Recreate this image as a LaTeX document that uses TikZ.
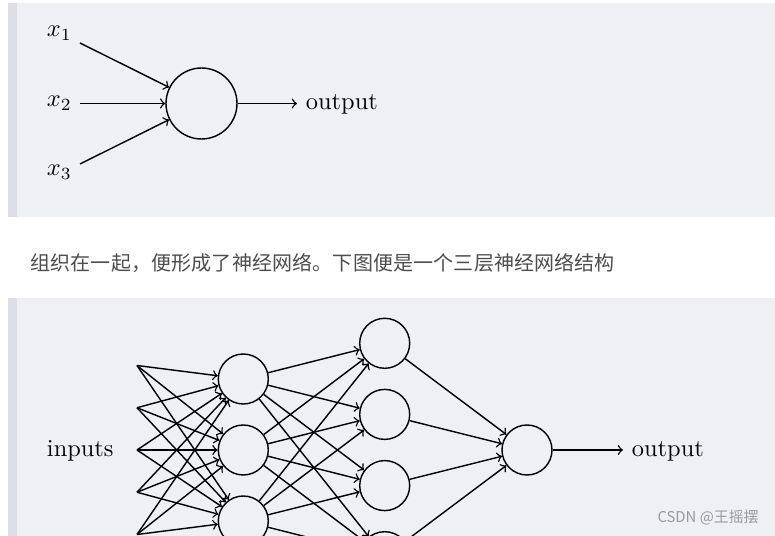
\documentclass[tikz,border=0pt]{standalone}
\usepackage{fontspec}
\newfontfamily\cjk[LetterSpace=0.8]{Noto Sans CJK SC}
\newfontfamily\cjkw{Noto Sans CJK SC}
\definecolor{panel}{HTML}{EEF0F4}
\definecolor{strip}{HTML}{DDDFE4}
\definecolor{bodytext}{HTML}{4D4D4D}
\definecolor{wmark}{HTML}{9A9A9A}
\begin{document}
\begin{tikzpicture}[x=0.41pt,y=-0.41pt,
  neuron/.style={draw,circle,inner sep=0pt,minimum size=20.5pt,line width=0.58pt},
  bigneuron/.style={neuron,minimum size=29.1pt},
  edge/.style={->,line width=0.58pt},
  lbl/.style={inner sep=0pt,anchor=base west},
]
\useasboundingbox (0,0) rectangle (775,536);
\clip (0,0) rectangle (775,536);
\fill[white] (0,0) rectangle (775,536);
% panels
\fill[panel] (8,3) rectangle (775,217.3);
\fill[strip] (8,3) rectangle (17.3,217.3);
\fill[panel] (8,297.7) rectangle (775,536);
\fill[strip] (8,297.7) rectangle (17.3,536);

% ---- top: single perceptron
\node[bigneuron] (p) at (201.5,103.5) {};
\node[lbl] (x1) at (46.5,37) {$x_1$};
\node[lbl] (x2) at (46.5,106.5) {$x_2$};
\node[lbl] (x3) at (46.5,176) {$x_3$};
\coordinate (s1) at (80,43);
\coordinate (s2) at (80,103.5);
\coordinate (s3) at (80,164);
\foreach \k in {1,2,3} \draw[edge] (s\k) -- (p);
\coordinate (pe) at (297,103.5);
\draw[edge] (p) -- (pe);
\node[lbl] (pout) at (305.5,110) {output};

% ---- sentence
\node[inner sep=0pt,anchor=west,text=bodytext] (sent) at (30,263.5)
  {\cjk\fontsize{8.2}{10}\selectfont 组织在一起，便形成了神经网络。下图便是一个三层神经网络结构};

% ---- bottom: three-layer network
\foreach \k in {1,...,5} \coordinate (in\k) at (137,{365.5+42.25*(\k-1)});
\node[neuron] (ha1) at (243.3,379) {};
\node[neuron] (ha2) at (243.3,450) {};
\node[neuron] (ha3) at (243.3,521) {};
\node[neuron] (hb1) at (384.7,343.3) {};
\node[neuron] (hb2) at (384.7,414.4) {};
\node[neuron] (hb3) at (384.7,485.6) {};
\node[neuron] (hb4) at (384.7,556.7) {};
\node[neuron] (out) at (527,450) {};
\foreach \i in {1,...,5} \foreach \j in {1,2,3} \draw[edge] (in\i) -- (ha\j);
\foreach \i in {1,2,3} \foreach \j in {1,...,4} \draw[edge] (ha\i) -- (hb\j);
\foreach \i in {1,...,4} \draw[edge] (hb\i) -- (out);
\coordinate (oe) at (623,450);
\draw[edge] (out) -- (oe);
\node[lbl] (inlbl) at (46.5,456.5) {inputs};
\node[lbl] (outlbl) at (631.5,457) {output};

% watermark
\node[inner sep=0pt,anchor=east,text=wmark] (wm) at (759,518)
  {\cjkw\fontsize{6.1}{8}\selectfont CSDN @王摇摆};
\end{tikzpicture}
\end{document}
